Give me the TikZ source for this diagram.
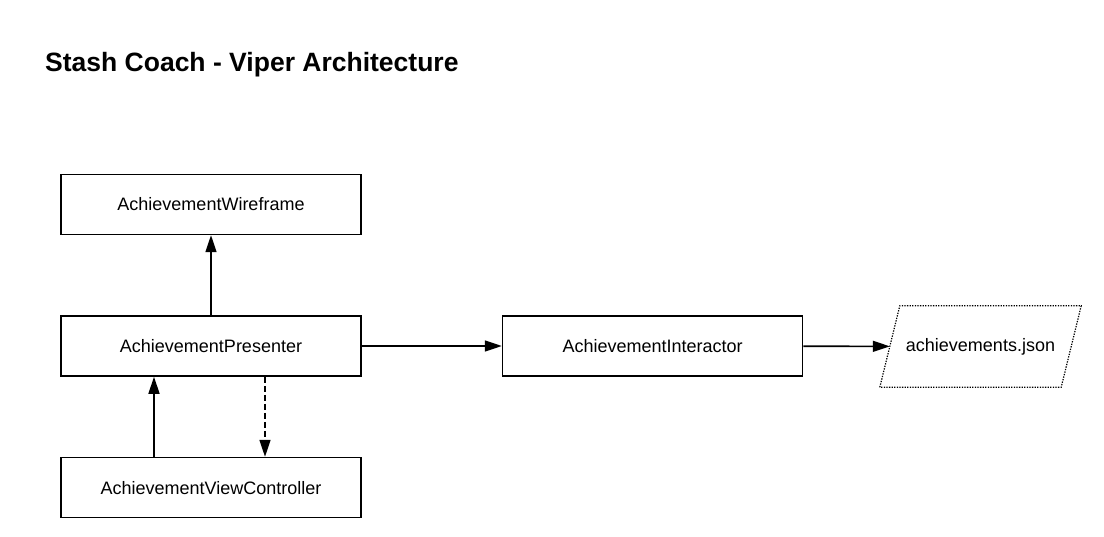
\documentclass[tikz,border=0pt]{standalone}
\usepackage{fontspec}
\setmainfont{Liberation Sans}
\usetikzlibrary{arrows.meta,positioning}

\begin{document}
\begin{tikzpicture}[
    x=1pt, y=-1pt,
    node distance=80pt,
    >={Triangle[length=17pt,width=11pt]},
    box/.style={draw, rectangle, line width=1.6pt, minimum width=300pt, minimum height=60pt, font=\fontsize{18}{22}\selectfont},
    file/.style={rectangle, minimum width=181pt, minimum height=81pt, inner sep=0pt, font=\fontsize{18}{22}\selectfont},
    dots/.style={line width=1.2pt, dash pattern=on 1.3pt off 1.3pt},
    link/.style={->, line width=1.6pt}
]
    \useasboundingbox (0,0) rectangle (1104,537);
    \node[anchor=base west, inner sep=0pt, font=\fontsize{26.5}{32}\bfseries] (title) at (45,72) {Stash Coach - Viper Architecture};

    \node[box] (presenter) at (211,346) {AchievementPresenter};
    \node[box, above=of presenter] (wireframe) {AchievementWireframe};
    \node[box, below=of presenter] (viewcontroller) {AchievementViewController};
    \node[box, right=140pt of presenter] (interactor) {AchievementInteractor};
    \node[file] (json) at (980.5,346.5) {achievements.json};
    % parallelogram round the file node
    \draw[dots] ([xshift=-10pt]json.south west) -- ([xshift=10pt]json.north west)
        -- ([xshift=10pt]json.north east) -- ([xshift=-10pt]json.south east) -- cycle;

    \draw[link] (presenter) -- (wireframe);
    \draw[link] (viewcontroller.north -| 154,0) -- (presenter.south -| 154,0);
    \draw[link, dash pattern=on 6pt off 3pt] (presenter.south -| 265,0) -- (viewcontroller.north -| 265,0);
    \draw[link] (presenter) -- (interactor);
    \draw[link] (interactor) -- (json);
\end{tikzpicture}
\end{document}
